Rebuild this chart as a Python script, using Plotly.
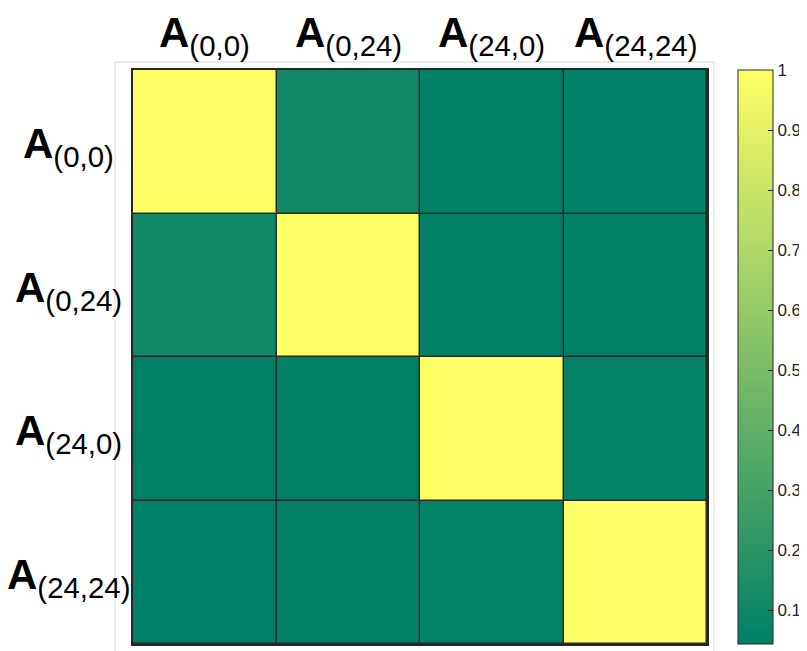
import plotly.graph_objects as go

labels = ["(0,0)", "(0,24)", "(24,0)", "(24,24)"]
values = [
    [1.00, 0.105, 0.046, 0.045],
    [0.105, 1.00, 0.046, 0.046],
    [0.046, 0.046, 1.00, 0.058],
    [0.045, 0.046, 0.058, 1.00],
]
cbar_ticks = [0.1, 0.2, 0.3, 0.4, 0.5, 0.6, 0.7, 0.8, 0.9, 1.0]
cmin, cmax = 0.044, 1.0

# page draws the figure with a small body offset
OFFX, OFFY = 8, 6
W, H = 807, 651
L, R, T, B = 133 - OFFX, 707 - OFFX, 68 - OFFY, 642 - OFFY
pw, ph = R - L, B - T

fig = go.Figure(go.Heatmap(
    z=values,
    x=list(range(4)), y=list(range(4)),
    colorscale=[[0, "rgb(0,128,102)"], [1, "rgb(255,255,102)"]],
    zmin=cmin, zmax=cmax,
    xgap=1.5, ygap=1.5,
    showscale=True,
    colorbar=dict(
        x=(738 - OFFX - L) / pw, xanchor="left", xref="paper",
        y=1, yanchor="top", len=1, lenmode="fraction",
        thickness=35, outlinecolor="#262626", outlinewidth=1,
        tickvals=cbar_ticks, ticks="inside", ticklen=5, tickcolor="#262626",
        tickfont=dict(family="Liberation Sans, Arial, sans-serif", size=17, color="#262626"),
        ypad=0, xpad=0,
    ),
    hoverinfo="skip",
))

fig.update_xaxes(range=[-0.5, 3.5], showticklabels=False, ticks="", showgrid=False,
                 zeroline=False, showline=True, mirror=True, linecolor="#262626", linewidth=2)
fig.update_yaxes(range=[3.5, -0.5], showticklabels=False, ticks="", showgrid=False,
                 zeroline=False, showline=True, mirror=True, linecolor="#262626", linewidth=2)

font = dict(family="Liberation Sans, Arial, sans-serif", size=42, color="black")
ann = []
for i, lab in enumerate(labels):
    txt = "<b>A</b><sub>" + lab + "</sub>"
    ann.append(dict(x=i, y=1, xref="x", yref="paper", yshift=6, text=txt,
                    showarrow=False, xanchor="center", yanchor="bottom", font=font))
    ann.append(dict(x=(68 - OFFX - L) / pw, y=i, xref="paper", yref="y", yshift=-5, text=txt,
                    showarrow=False, xanchor="center", yanchor="middle", font=font))

fig.update_layout(
    width=W, height=H,
    margin=dict(l=L, r=W - R, t=T, b=H - B, autoexpand=False),
    paper_bgcolor="white", plot_bgcolor="#2b2b2b",
    annotations=ann,
    shapes=[dict(type="rect", xref="paper", yref="paper",
                 x0=(115 - OFFX - L) / pw, x1=(714 - OFFX - L) / pw,
                 y0=-0.1, y1=1 + (68 - 60) / ph,
                 line=dict(color="#d9d9d9", width=1), layer="below")],
)

fig.write_html("out.html")
